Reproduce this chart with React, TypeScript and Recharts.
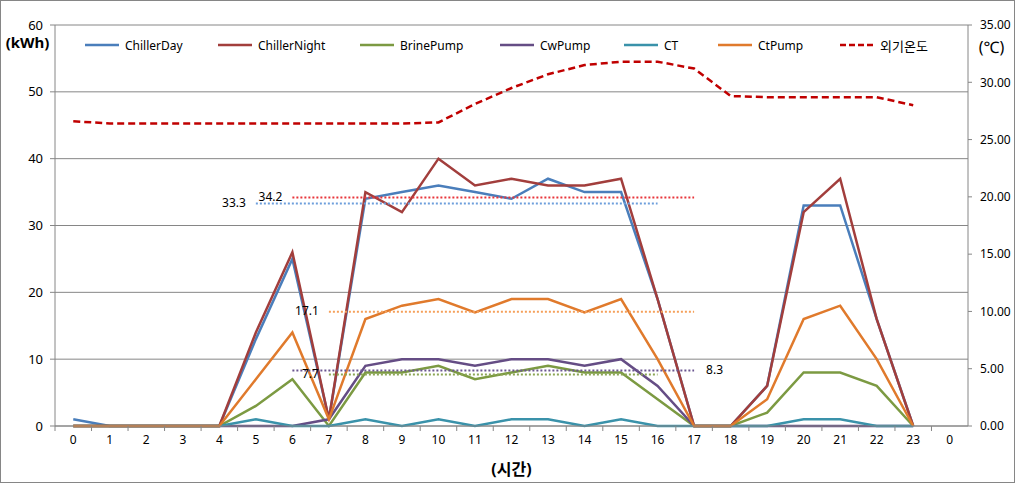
import { ComposedChart, Line, XAxis, YAxis, CartesianGrid, Label } from "recharts";

// 시간축 (마지막 0은 데이터 없음)
const hours = ["0","1","2","3","4","5","6","7","8","9","10","11","12","13","14","15","16","17","18","19","20","21","22","23","0"];

const chillerDay = [1,0,0,0,0,13,25,1,34,35,36,35,34,37,35,35,19,0,0,6,33,33,16,0];
const chillerNight = [0,0,0,0,0,14,26,1,35,32,40,36,37,36,36,37,19,0,0,6,32,37,16,0];
const brinePump = [0,0,0,0,0,3,7,0,8,8,9,7,8,9,8,8,4,0,0,2,8,8,6,0];
const cwPump = [0,0,0,0,0,0,0,1,9,10,10,9,10,10,9,10,6,0,0,0,0,0,0,0];
const ct = [0,0,0,0,0,1,0,0,1,0,1,0,1,1,0,1,0,0,0,0,1,1,0,0];
const ctPump = [0,0,0,0,0,7,14,1,16,18,19,17,19,19,17,19,10,0,0,4,16,18,10,0];
const outdoorTemp = [26.6,26.4,26.4,26.4,26.4,26.4,26.4,26.4,26.4,26.4,26.5,28.1,29.5,30.7,31.5,31.8,31.8,31.2,28.8,28.7,28.7,28.7,28.7,28.0];

// 평균선
const avgKeys = ["avgDay", "avgNight", "avgBrine", "avgCw", "avgCt"];
const avgValues = [33.3, 34.2, 7.7, 8.3, 17.1];
const avgFrom = [5, 6, 7, 6, 7];
const avgTo = [16, 17, 16, 17, 17];

const leftTicks = [0, 10, 20, 30, 40, 50, 60];
const rightTicks = [0, 5, 10, 15, 20, 25, 30, 35];

const series = [
  { key: "chillerDay", name: "ChillerDay", color: "#4A7EBB", values: chillerDay },
  { key: "chillerNight", name: "ChillerNight", color: "#A23E3C", values: chillerNight },
  { key: "brinePump", name: "BrinePump", color: "#7C9A42", values: brinePump },
  { key: "cwPump", name: "CwPump", color: "#654D85", values: cwPump },
  { key: "ct", name: "CT", color: "#3A92AA", values: ct },
  { key: "ctPump", name: "CtPump", color: "#E07A2C", values: ctPump },
];

const avgColors = ["#6E9FDC", "#E8353A", "#8CA655", "#6B5690", "#F5A05A"];
const avgLabelRight = [false, false, false, true, false];

const chartData = hours.map((h, i) => {
  const row: any = { idx: i, hour: h, temp: outdoorTemp[i] ?? null };
  series.forEach((s) => (row[s.key] = s.values[i] ?? null));
  avgKeys.forEach((k, j) => {
    row[k] = i >= avgFrom[j] && i <= avgTo[j] ? avgValues[j] : null;
  });
  return row;
});

const legendX = [85, 218, 360, 500, 624, 718, 840];
const axisColor = "#868686";
const font = "'Noto Sans', 'Noto Sans CJK KR', sans-serif";
const plotW = 913;
const halfBand = plotW / hours.length / 2;

const XTick = (props: any) => {
  const { x, y, payload } = props;
  return (
    <g>
      <line x1={x - halfBand} x2={x - halfBand} y1={y - 9} y2={y - 4} stroke={axisColor} />
      <text x={x} y={y} dy="0.71em" textAnchor="middle" fontSize={12} fill="#000" fontFamily={font}>
        {hours[payload.value]}
      </text>
    </g>
  );
};

const avgLabel = (j: number) => (props: any) => {
  const { x, y, index } = props;
  if (x == null || y == null) return null;
  if (avgLabelRight[j]) {
    if (index !== avgTo[j]) return null;
    return (
      <text x={x + 12} y={y} dominantBaseline="middle" fontSize={12} fill="#000" fontFamily={font}>
        {avgValues[j]}
      </text>
    );
  }
  if (index !== avgFrom[j]) return null;
  return (
    <text x={x - 10} y={y} dominantBaseline="middle" textAnchor="end" fontSize={12} fill="#000" fontFamily={font}>
      {avgValues[j]}
    </text>
  );
};

export default function App() {
  const legendItems = [
    ...series.map((s) => ({ name: s.name, color: s.color, dashed: false })),
    { name: "외기온도", color: "#C00000", dashed: true },
  ];

  return (
    <div style={{ position: "absolute", left: 0, top: 0, width: 1015, height: 483, background: "#fff", fontFamily: font }}>
      <ComposedChart width={1015} height={483} data={chartData} margin={{ top: 25, right: 0, bottom: 0, left: 0 }}>
        <CartesianGrid vertical={false} stroke={axisColor} yAxisId="left" />
        <XAxis
          dataKey="idx"
          type="category"
          interval={0}
          height={57}
          padding={{ left: halfBand, right: halfBand }}
          tickSize={5}
          tickMargin={4}
          tickLine={false}
          stroke={axisColor}
          tick={<XTick />}
        >
          <Label value="(시간)" position="insideBottom" offset={8} fontSize={16} fontWeight="bold" fill="#000" />
        </XAxis>
        <YAxis
          yAxisId="left"
          domain={[0, 60]}
          ticks={leftTicks}
          width={55}
          tickSize={5}
          tickMargin={7}
          stroke={axisColor}
          tick={{ fill: "#000", fontSize: 13 }}
        >
          <Label value="(kWh)" position="insideTop" offset={12} fontSize={15} fontWeight="bold" fill="#000" />
        </YAxis>
        <YAxis
          yAxisId="right"
          orientation="right"
          domain={[0, 35]}
          ticks={rightTicks}
          width={47}
          tickSize={4}
          tickMargin={8}
          stroke={axisColor}
          tickFormatter={(v) => Number(v).toFixed(2)}
          tick={{ fill: "#000", fontSize: 12, textAnchor: "start" }}
        >
          <Label value="(℃)" position="insideTop" offset={17} fontSize={16} fill="#000" />
        </YAxis>

        {series.map((s) => (
          <Line
            key={s.key}
            yAxisId="left"
            dataKey={s.key}
            stroke={s.color}
            strokeWidth={2.5}
            dot={false}
            activeDot={false}
            isAnimationActive={false}
          />
        ))}
        {avgKeys.map((k, j) => (
          <Line
            key={k}
            yAxisId="left"
            dataKey={k}
            stroke={avgColors[j]}
            strokeWidth={2}
            strokeDasharray="2 2"
            dot={false}
            activeDot={false}
            label={avgLabel(j)}
            isAnimationActive={false}
          />
        ))}
        <Line
          yAxisId="right"
          dataKey="temp"
          stroke="#C00000"
          strokeWidth={2.5}
          strokeDasharray="7 4"
          dot={false}
          activeDot={false}
          isAnimationActive={false}
        />
      </ComposedChart>

      {/* 범례 */}
      {legendItems.map((item, i) => (
        <div
          key={item.name}
          style={{ position: "absolute", left: legendX[i], top: 36, height: 18, display: "flex", alignItems: "center", fontSize: item.dashed ? 13 : 12, color: "#000", whiteSpace: "nowrap" }}
        >
          <svg width={36} height={6} style={{ marginRight: 4 }}>
            <line x1={0} x2={34} y1={3} y2={3} stroke={item.color} strokeWidth={2.5} strokeDasharray={item.dashed ? "6 3" : undefined} />
          </svg>
          {item.name}
        </div>
      ))}

      <div style={{ position: "absolute", left: 0, top: 0, width: 1015, height: 483, boxSizing: "border-box", border: "1px solid #868686", pointerEvents: "none" }} />
    </div>
  );
}
